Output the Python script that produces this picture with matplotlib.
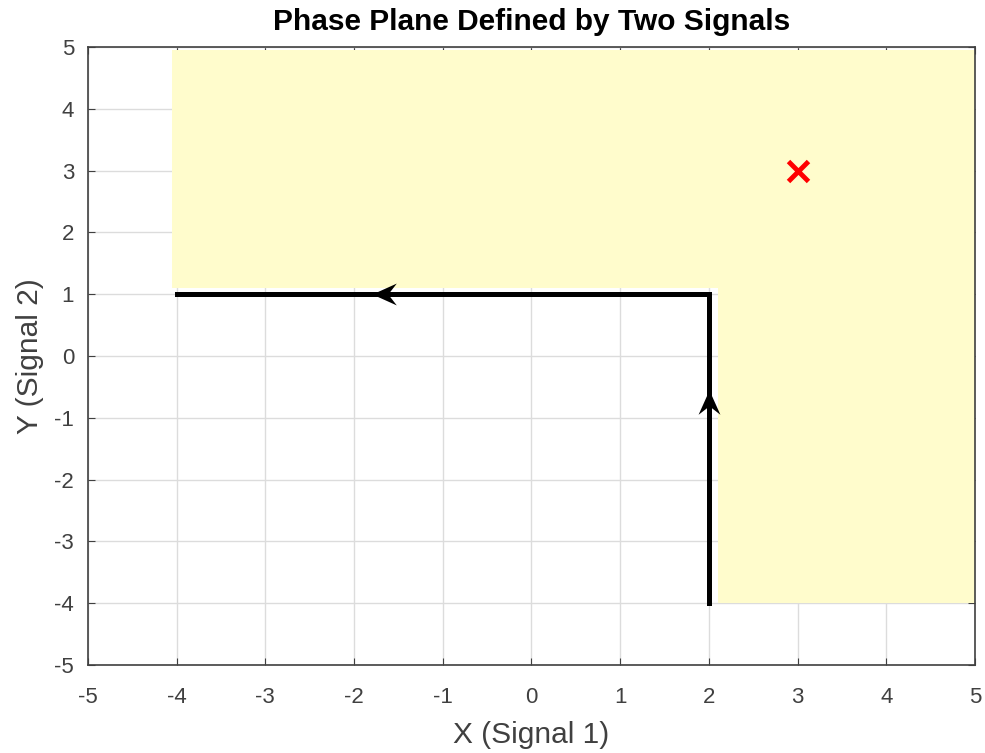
import matplotlib.pyplot as plt
from matplotlib.patches import Polygon
from matplotlib.path import Path
from matplotlib.markers import MarkerStyle
from matplotlib.transforms import Affine2D

plt.rcParams["font.family"] = ["Liberation Sans", "DejaVu Sans"]
plt.rcParams["axes.unicode_minus"] = False

# region outline (x, y)
region_x = [-4.05, -4.05, 5, 5, 2.1, 2.1]
region_y = [1.1, 4.95, 4.95, -4, -4, 1.1]

# trajectory: up from (2,-4) then left along y=1
path_x = [2, 2, -4]
path_y = [-4, 1, 1]

# arrowhead tips and directions (degrees, 90 = up)
arrow_x = [2, -1.8]
arrow_y = [-0.55, 1]
arrow_dir = [90, 180]

target_x = [3]
target_y = [3]

ticks = list(range(-5, 6))

# arrowhead pointing right with its tip at the origin
head = Path([(0, 0), (-1, 0.45), (-0.65, 0), (-1, -0.45), (0, 0)],
            [Path.MOVETO, Path.LINETO, Path.LINETO, Path.LINETO, Path.CLOSEPOLY])

fig = plt.figure(figsize=(9.85, 7.53), dpi=100)
ax = fig.add_axes([0.0893, 0.1169, 0.9005, 0.8207])

ax.add_patch(Polygon(list(zip(region_x, region_y)), closed=True,
                     facecolor="#fffccc", edgecolor="none", zorder=1))
ax.plot(path_x, path_y, color="black", lw=3.6, zorder=3,
        solid_joinstyle="miter")
for x, y, d in zip(arrow_x, arrow_y, arrow_dir):
    m = MarkerStyle(head, transform=Affine2D().rotate_deg(d))
    ax.plot(x, y, marker=m, ms=35, color="black", mew=0, zorder=4)
ax.plot(target_x, target_y, "x", color="red", ms=15, mew=3.5, zorder=5)

ax.set_xlim(-5, 5)
ax.set_ylim(-5, 5)
ax.set_xticks(ticks)
ax.set_yticks(ticks)
ax.grid(True, color="#dcdcdc", lw=1, zorder=0)
ax.set_axisbelow(True)
ax.tick_params(direction="in", top=True, right=True, labelsize=16,
               colors="#404040", length=5, pad=10)
ax.tick_params(axis="x", pad=16)
for s in ax.spines.values():
    s.set_color("#404040")
    s.set_linewidth(1.2)

ax.set_title("Phase Plane Defined by Two Signals", fontsize=21.5,
             fontweight="bold", pad=12)
ax.set_xlabel("X (Signal 1)", fontsize=21.5, color="#404040", labelpad=9)
ax.set_ylabel("Y (Signal 2)", fontsize=21.5, color="#404040", labelpad=7)

fig.savefig("out.png", dpi=100)
